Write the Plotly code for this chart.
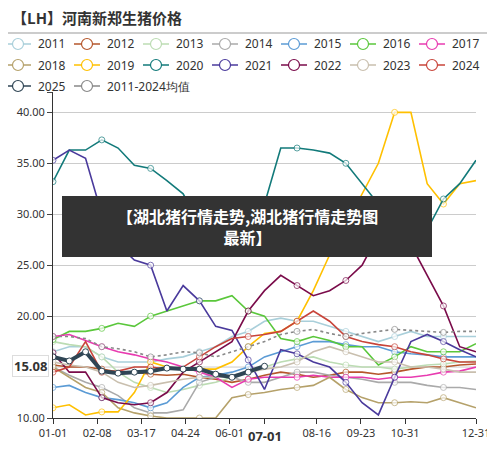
import plotly.graph_objects as go

days = [0,14,28,42,56,70,84,98,112,126,140,154,168,182,196,210,224,238,252,266,280,294,308,322,336,350,364]
tick_days = [0,38,76,114,152,182,227,265,303,364]
tick_text = ["01-01","02-08","03-17","04-24","06-01","","08-16","09-23","10-31","12-31"]

names = ["2011","2012","2013","2014","2015","2016","2017","2018","2019","2020","2021","2022","2023","2024","2025","2011-2024均值"]
colors = ["#a9cfda","#b5562b","#bcdcb3","#aaaaaa","#5b9bd5","#5ac73b","#e83bb0","#b5a16a","#ffc000","#127a7a","#4a3a9c","#7a0b4a","#c9bfae","#c8443a","#2f4554","#888888"]

v2011 = [16.5,17,17,16,15.5,15.5,15.5,15.8,16,16.5,17,18,18.5,19.5,19.8,19.5,19.5,19,18.5,18,17.5,18,18.5,18,18,18,18]
v2012 = [15.2,15,15,14.8,14.5,14.5,14.3,14.2,14.3,14,13.8,13.5,13.8,14.2,14.5,14.3,14,14.2,14.5,14.5,14.3,14.5,14.8,15,15,15.2,15.3]
v2013 = [17.5,17.2,17,16,14.5,13.5,13,12.5,12.8,13.2,13.5,14,14.5,15,15.5,15.8,16,15.5,15.2,15,15,14.8,15,15.2,15.3,15.5,15.6]
v2014 = [15,14.2,13.5,13,12.2,11,10.5,10.5,10.8,13.5,14,14,13.5,13.5,14,14.5,14.5,14.2,14,13.8,13.5,13.5,13.5,13.2,13,13,12.8]
v2015 = [13,13.2,12.5,12,11.8,11.5,11,11.5,13,14,14.2,14.5,15,16,16.5,17,17.5,17.5,17.2,17,17,16.5,16.3,16.2,16,16,16]
v2016 = [17.7,18.5,18.5,18.8,19.3,19,20,20.5,21,21.5,21.5,22,20.5,20,17.8,17.5,18,17.6,17,17,15.2,16,17,16.5,16.5,16.5,17.3]
v2017 = [18,18.2,17.6,17,16.5,16.2,15.8,15.5,15,14.5,14,13,13.8,14,14,14,14.2,14,14,14,13.8,14,14,14.2,14.5,14.6,15]
v2018 = [15,14,13,12.5,11,10.5,10.2,10,10,10,10,12,12.3,12.5,12.8,13,13.2,14,12.8,12,11.5,11.5,11.6,11.5,12,11.5,11]
v2019 = [11,11.3,10.3,10.6,10.6,12.5,15.5,15,14.8,14.8,14.8,15.5,17,18.3,18.5,19.5,22.5,26,29,32,35,40,40,33,31,33,33.3]
v2020 = [33.2,36.3,36.3,37.3,36.5,34.8,34.5,33.3,32,29,27,27,28,31,36.5,36.5,36.3,36,35,33,31,29,28,28.5,31.5,33,35.3]
v2021 = [35.3,36.3,35.5,30,27,25.5,25,20.5,23,21.5,19,18.6,15.7,12.8,16.7,16.3,15.5,15,13.5,11.5,10.3,14,17.5,18.2,17.5,16.7,16]
v2022 = [16.4,14.5,14.5,12,11.5,11.3,11.5,12.5,14.5,15.5,16.5,17.5,20.5,22.5,24,23,22,22.5,23.5,25,28,30,27,24,21,17,16.5]
v2023 = [15.5,15.2,15,14.5,13.5,13,13.2,13.5,13.8,14,14,14.2,14.5,14.8,15,15.5,16.5,17,16.5,16,15.5,15.5,15,15,14.8,14.5,14.5]
v2024 = [14.5,15,17.5,14.5,14.6,15,15,14.8,15,16,17,17.8,18,18.2,18.5,19.5,20.5,19.5,18,17.5,17.2,17,16.5,16.2,15.8,15.5,15.5]
v2025 = [16,15.6,16.5,14.6,14.4,14.5,14.6,14.9,14.8,14.8,14.3,14,14.5,15.08]
vavg = [18,18,17.8,17,16.8,16.5,16,16.2,16.5,16.4,16,16.5,17,17.5,18.2,18.5,18.7,18.3,18,18.3,18.5,18.7,18.6,18.5,18.4,18.5,18.5]

series = [v2011,v2012,v2013,v2014,v2015,v2016,v2017,v2018,v2019,v2020,v2021,v2022,v2023,v2024,v2025,vavg]

PL, PT, PW, PH = 53, 92, 423, 326
def px(x): return (x - PL) / PW
def py(y): return (PT + PH - y) / PH

fig = go.Figure()
for i,(n,c,v) in enumerate(zip(names,colors,series)):
    x = days[:len(v)]
    sizes = [6 if k % 3 == 0 else 0 for k in range(len(v))]
    is25 = n == "2025"
    isavg = i == 15
    fig.add_trace(go.Scatter(
        x=x, y=v, name=n, mode="lines+markers", showlegend=False,
        line=dict(color=c, width=4 if is25 else 1.6, dash="dot" if isavg else "solid"),
        marker=dict(size=0 if is25 else sizes, color="white", line=dict(color=c, width=1), symbol="circle"),
    ))
    row, col = divmod(i, 7)
    lx = 5 + 69 * col
    ly = 44 + 21 * row
    fig.add_shape(type="line", xref="paper", yref="paper", x0=px(lx), x1=px(lx + 26), y0=py(ly), y1=py(ly),
                  line=dict(color=c, width=1.5))
    fig.add_shape(type="circle", xref="paper", yref="paper", xsizemode="pixel", ysizemode="pixel",
                  xanchor=px(lx + 13), yanchor=py(ly), x0=-5.5, x1=5.5, y0=-5.5, y1=5.5,
                  fillcolor="white", line=dict(color=c, width=1.2))
    fig.add_annotation(xref="paper", yref="paper", x=px(lx + 31), y=py(ly), xanchor="left", yanchor="middle",
                       showarrow=False, text=n, font=dict(size=12, color="#333"))

fig.add_shape(type="line", xref="paper", yref="paper", x0=px(0), x1=px(495), y0=py(33), y1=py(33),
              line=dict(color="#999", width=1))
fig.add_shape(type="rect", xref="paper", yref="paper", x0=px(62), x1=px(432), y0=py(257), y1=py(196),
              fillcolor="#333333", line=dict(width=0), layer="above")
fig.add_annotation(xref="paper", yref="paper", x=px(247), y=py(226), showarrow=False,
                   text="<b>【湖北猪行情走势,湖北猪行情走势图<br>最新】</b>", align="center",
                   font=dict(color="white", size=16, family="Noto Sans CJK SC"))
fig.add_annotation(xref="paper", yref="paper", x=px(10), y=py(17), xanchor="left", yanchor="middle",
                   showarrow=False, text="<b>【LH】河南新郑生猪价格</b>",
                   font=dict(size=15, color="#333", family="Noto Sans CJK SC"))
fig.add_annotation(xref="x", yref="paper", x=182, y=-0.02, yanchor="top", showarrow=False,
                   text="<b>07-01</b>", bgcolor="white", font=dict(size=13, color="#333"))
fig.add_annotation(xref="paper", yref="y", x=-0.01, y=15.08, xanchor="right", showarrow=False,
                   text="<b>15.08</b>", bgcolor="white", bordercolor="#ddd", borderwidth=1,
                   font=dict(size=13, color="#333"))

fig.update_layout(
    width=495, height=454, margin=dict(l=45, r=27, t=84, b=44, autoexpand=False),
    paper_bgcolor="white", plot_bgcolor="white",
    font=dict(family="Noto Sans, DejaVu Sans", size=12, color="#333"),
    showlegend=False,
    xaxis=dict(range=[0,364], tickvals=tick_days, ticktext=tick_text, showgrid=False,
               showline=True, linecolor="#333", ticks="outside", ticklen=5, tickcolor="#333",
               tickfont=dict(size=11), zeroline=False),
    yaxis=dict(range=[10,42], tickvals=[10,20,25,30,35,40,42],
               ticktext=["10.00","20.00","25.00","30.00","35.00","40.00",""],
               showgrid=True, gridcolor="#ccc", showline=True, linecolor="#333", ticks="outside",
               ticklen=5, tickfont=dict(size=11), zeroline=False),
)
fig.add_hline(y=15, line=dict(color="#ccc", width=1), layer="below")
fig.write_html("out.html")
